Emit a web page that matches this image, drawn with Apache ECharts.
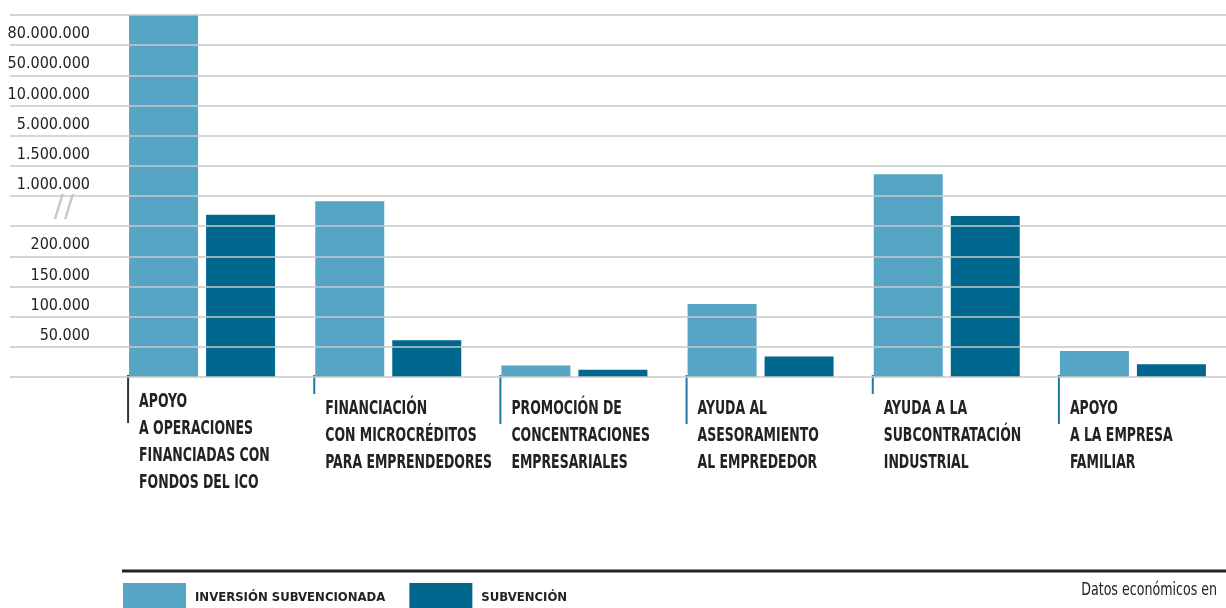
<!DOCTYPE html>
<html>
<head>
<meta charset="utf-8">
<script src="https://cdn.jsdelivr.net/npm/echarts@6/dist/echarts.min.js"></script>
<style>
  html, body { margin: 0; padding: 0; background: #fff; }
  #main { width: 1226px; height: 608px; }
</style>
</head>
<body>
<div id="main"></div>
<script>
var categories = [
    'APOYO\nA OPERACIONES\nFINANCIADAS CON\nFONDOS DEL ICO',
    'FINANCIACIÓN\nCON MICROCRÉDITOS\nPARA EMPRENDEDORES',
    'PROMOCIÓN DE\nCONCENTRACIONES\nEMPRESARIALES',
    'AYUDA AL\nASESORAMIENTO\nAL EMPREDEDOR',
    'AYUDA A LA\nSUBCONTRATACIÓN\nINDUSTRIAL',
    'APOYO\nA LA EMPRESA\nFAMILIAR'
];
var inversion = [100000000, 930000, 19000, 121000, 1360000, 43000];   // Inversión subvencionada
var subvencion = [750000, 61000, 12000, 34000, 735000, 21000];        // Subvención

// eje roto: cada marca ocupa el mismo espacio
var tickValues = [0, 50000, 100000, 150000, 200000, 600000, 1000000, 1500000, 5000000, 10000000, 50000000, 80000000, 100000000];
var tickLabels = ['', '50.000', '100.000', '150.000', '200.000', '//', '1.000.000', '1.500.000', '5.000.000', '10.000.000', '50.000.000', '80.000.000', ''];

var NARROW = "'Liberation Sans Narrow', 'DejaVu Sans Condensed', 'Arial Narrow', sans-serif";
var LIGHT = '#56a5c5';
var DARK = '#00688f';
var BAR_W = 69, BAR_GAP = 8;
var tickLen = [46, 17, 47, 47, 17, 47];          // largo de la marca bajo cada grupo
var tickColor = ['#333333', '#1f78a3', '#1f78a3', '#1f78a3', '#1f78a3', '#1f78a3'];

// valor real -> posición en el eje (lineal entre marcas)
function toAxis(v) {
    for (var i = 1; i < tickValues.length; i++) {
        if (v <= tickValues[i]) {
            return i - 1 + (v - tickValues[i - 1]) / (tickValues[i] - tickValues[i - 1]);
        }
    }
    return tickValues.length - 1;
}

var myChart = echarts.init(document.getElementById('main'));

var option = {
    animation: false,
    legend: {
        left: 123,
        top: 583,
        padding: 0,
        itemWidth: 63,
        itemHeight: 30,
        itemGap: 24,
        icon: 'rect',
        data: ['INVERSIÓN SUBVENCIONADA', 'SUBVENCIÓN'],
        textStyle: { fontFamily: NARROW, fontSize: 13, fontWeight: 'bold', color: '#222', padding: [2, 0, 0, 4] }
    },
    graphic: [
        { type: 'line', shape: { x1: 122, y1: 571, x2: 1226, y2: 571 }, style: { stroke: '#222', lineWidth: 3 } },
        {
            type: 'text', x: 1217, y: 590, scaleX: 0.78,
            style: { text: 'Datos económicos en', fontFamily: NARROW, fontSize: 18, fill: '#222', align: 'right', verticalAlign: 'middle' }
        }
    ],
    grid: [
        { left: 10, right: 0, top: 15, bottom: 231 },          // líneas de fondo y etiquetas
        { left: 109, width: 1134, top: 15, bottom: 231 }       // barras
    ],
    xAxis: [
        { gridIndex: 0, type: 'value', show: false },
        {
            gridIndex: 1,
            type: 'category',
            data: categories,
            axisLine: { show: false },
            axisTick: { show: false },
            axisLabel: { show: false }
        }
    ],
    yAxis: [
        {
            gridIndex: 0,
            type: 'value',
            min: 0,
            max: tickValues.length - 1,
            interval: 1,
            z: 5,
            axisLine: { show: false },
            axisTick: { show: false },
            splitLine: { lineStyle: { color: '#c8c8c8', width: 1.5 } },
            axisLabel: {
                inside: true,
                margin: 80,
                align: 'right',
                verticalAlign: 'bottom',
                padding: [0, 0, 3, 0],
                fontFamily: NARROW,
                fontSize: 16,
                color: '#222',
                formatter: function (v) {
                    var s = tickLabels[Math.round(v)] || '';
                    return s === '//' ? '{brk|//}' : s;
                },
                rich: {
                    brk: { fontFamily: 'DejaVu Sans', fontSize: 30, color: '#c8c8c8', padding: [0, 16, 0, 0] }
                }
            }
        },
        { gridIndex: 1, type: 'value', min: 0, max: tickValues.length - 1, interval: 1, show: false }
    ],
    series: [
        {
            name: 'INVERSIÓN SUBVENCIONADA',
            type: 'bar',
            xAxisIndex: 1,
            yAxisIndex: 1,
            barWidth: BAR_W,
            barGap: (BAR_GAP / BAR_W * 100) + '%',
            itemStyle: { color: LIGHT },
            data: inversion.map(toAxis)
        },
        {
            name: 'SUBVENCIÓN',
            type: 'bar',
            xAxisIndex: 1,
            yAxisIndex: 1,
            barWidth: BAR_W,
            itemStyle: { color: DARK },
            data: subvencion.map(toAxis)
        },
        {
            // marca vertical y rótulo de cada grupo
            type: 'custom',
            xAxisIndex: 1,
            yAxisIndex: 1,
            clip: false,
            silent: true,
            data: categories.map(function (c, i) { return [i, 0]; }),
            renderItem: function (params, api) {
                var i = api.value(0);
                var p = api.coord([i, 0]);
                var left = p[0] - (BAR_W * 2 + BAR_GAP) / 2 - 1;
                return {
                    type: 'group',
                    children: [
                        {
                            type: 'line',
                            shape: { x1: left, y1: p[1] - 2, x2: left, y2: p[1] + tickLen[i] },
                            style: { stroke: tickColor[i], lineWidth: 2 }
                        },
                        {
                            type: 'text',
                            x: left + 11,
                            y: p[1] + (i === 0 ? 12 : 19),
                            scaleX: 0.73,
                            style: {
                                x: 0,
                                y: 0,
                                text: categories[i],
                                fontFamily: NARROW,
                                fontSize: 19,
                                fontWeight: 'bold',
                                lineHeight: 27,
                                fill: '#222',
                                align: 'left',
                                verticalAlign: 'top'
                            }
                        }
                    ]
                };
            }
        }
    ]
};

myChart.setOption(option);
</script>
</body>
</html>
